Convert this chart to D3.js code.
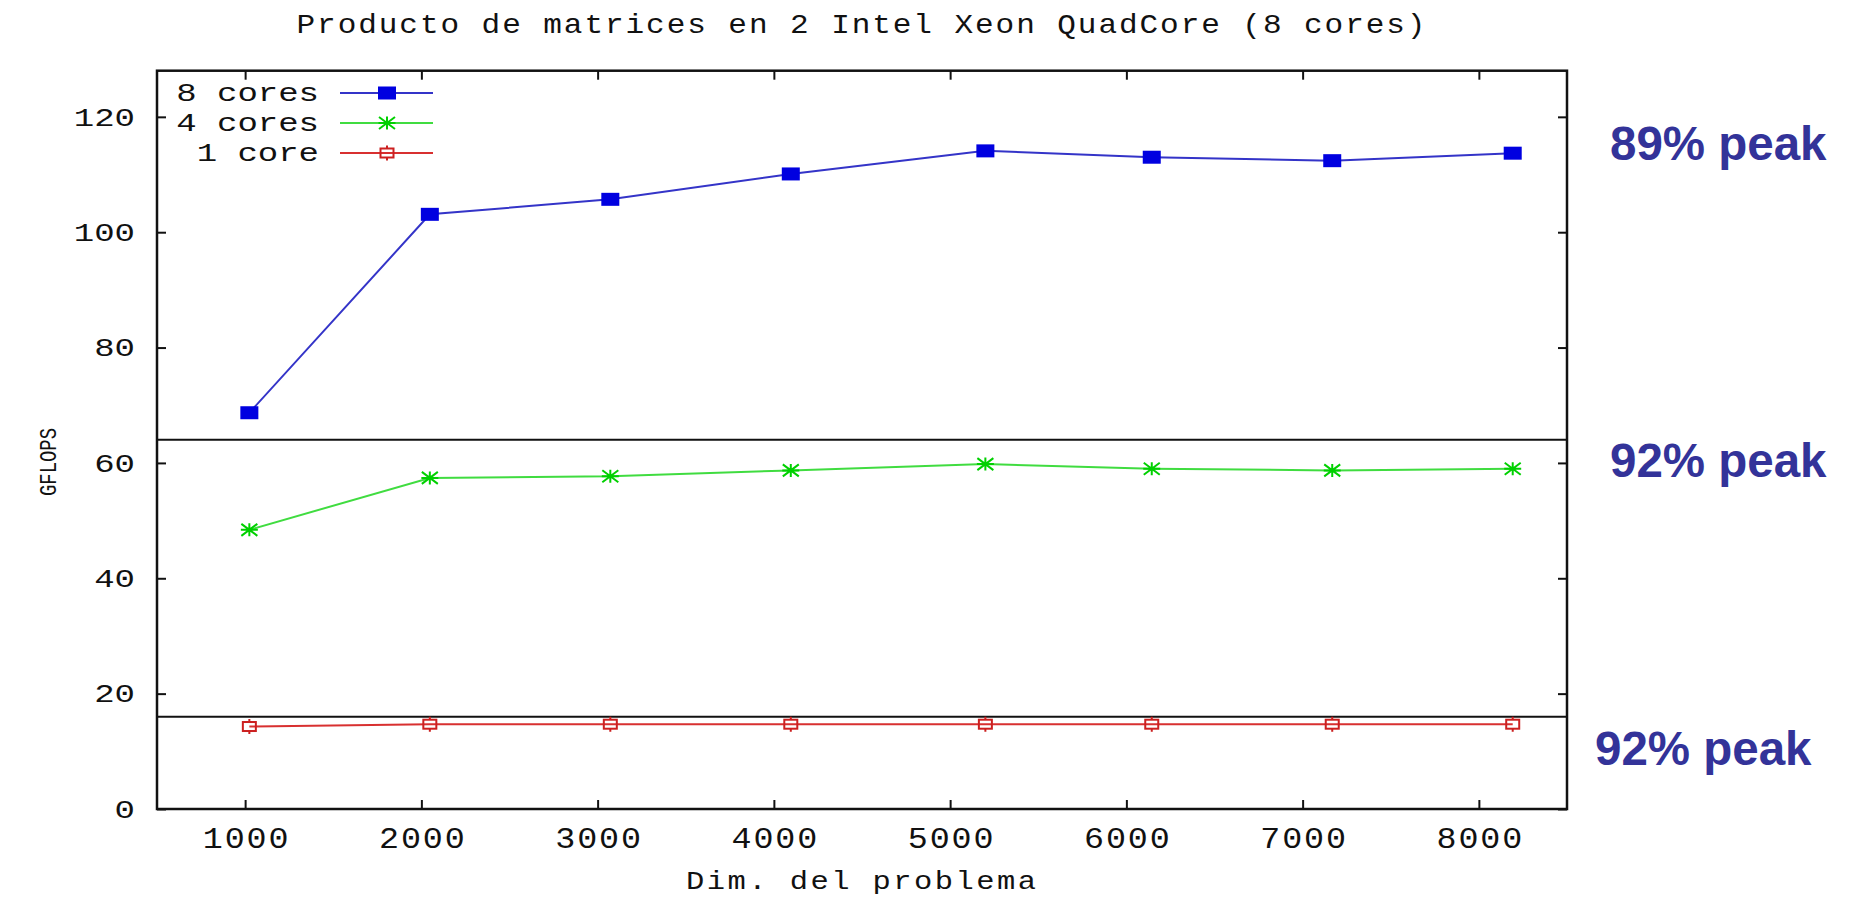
<!DOCTYPE html>
<html>
<head>
<meta charset="utf-8">
<script src="https://cdn.jsdelivr.net/npm/d3@7"></script>
<style>
  html, body { margin: 0; padding: 0; background: #fff; }
  svg { display: block; }
</style>
</head>
<body>
<svg id="chart" width="1849" height="899"></svg>
<script>
// Problem sizes (matrix dimension) and measured GFLOPS per configuration
const dims    = [1024, 2048, 3072, 4096, 5200, 6144, 7168, 8192];
const cores8  = [68.7, 103.1, 105.7, 110.1, 114.1, 113.0, 112.4, 113.7];
const cores4  = [48.4, 57.4, 57.7, 58.7, 59.8, 59.0, 58.7, 59.0];
const cores1  = [14.3, 14.7, 14.7, 14.7, 14.7, 14.7, 14.7, 14.7];
const seriesNames = ["8 cores", "4 cores", "1 core"];

// Theoretical peak levels (1 core, 4 cores) drawn as reference lines
const peakLevels = [16, 64];
const peakLabels = ["89% peak", "92% peak", "92% peak"];

const xTicks = [1000, 2000, 3000, 4000, 5000, 6000, 7000, 8000];
const yTicks = [0, 20, 40, 60, 80, 100, 120];
const xDomain = [500, 8500];
const yDomain = [0, 128];

const titleText = "Producto de matrices en 2 Intel Xeon QuadCore (8 cores)";
const xLabelText = "Dim. del problema";
const yLabelText = "GFLOPS";

// ---- layout ----
const L = 157, R = 1567, T = 70.7, B = 809;
const svg = d3.select("#chart");
const x = d3.scaleLinear().domain(xDomain).range([L, R]);
const y = d3.scaleLinear().domain(yDomain).range([B, T]);

const monoFont = "'Liberation Mono', 'DejaVu Sans Mono', monospace";
const WIDE = 1.36;   // horizontal stretch for the tick/legend lettering
const TSTR = 1.15;   // milder stretch for title and axis caption

// Title
svg.append("text")
  .attr("transform", `translate(861,33) scale(${TSTR},1)`)
  .attr("text-anchor", "middle")
  .attr("font-family", monoFont).attr("font-size", 27)
  .attr("textLength", 1129 / TSTR).attr("lengthAdjust", "spacing")
  .attr("fill", "#111")
  .text(titleText);

// Peak reference lines
svg.append("g").selectAll("line").data(peakLevels).join("line")
  .attr("x1", L).attr("x2", R)
  .attr("y1", d => y(d)).attr("y2", d => y(d))
  .attr("stroke", "#111").attr("stroke-width", 2);

// Bottom axis (+ mirrored top ticks)
const xAxis = svg.append("g").attr("transform", `translate(0,${B})`)
  .call(d3.axisBottom(x).tickValues(xTicks).tickSize(-9).tickFormat(d3.format("d")));
xAxis.select(".domain").remove();
xAxis.selectAll(".tick line").attr("stroke", "#111").attr("stroke-width", 2);
xAxis.selectAll(".tick text")
  .attr("x", 0).attr("y", 0).attr("dy", null)
  .attr("transform", `translate(0,39) scale(${TSTR},1)`)
  .attr("font-family", monoFont).attr("font-size", 29)
  .attr("textLength", 86 / TSTR).attr("lengthAdjust", "spacing")
  .attr("fill", "#111");

const xTop = svg.append("g").attr("transform", `translate(0,${T})`)
  .call(d3.axisTop(x).tickValues(xTicks).tickSize(-9).tickFormat(""));
xTop.select(".domain").remove();
xTop.selectAll(".tick line").attr("stroke", "#111").attr("stroke-width", 2);

// Left axis (+ mirrored right ticks)
const yAxis = svg.append("g").attr("transform", `translate(${L},0)`)
  .call(d3.axisLeft(y).tickValues(yTicks).tickSize(-9));
yAxis.select(".domain").remove();
yAxis.selectAll(".tick line").attr("stroke", "#111").attr("stroke-width", 2);
yAxis.selectAll(".tick text")
  .attr("x", 0).attr("dy", "0.33em")
  .attr("transform", `translate(-22,0) scale(${WIDE},1)`)
  .attr("font-family", monoFont).attr("font-size", 25)
  .attr("fill", "#111");

const yRight = svg.append("g").attr("transform", `translate(${R},0)`)
  .call(d3.axisRight(y).tickValues(yTicks).tickSize(-9).tickFormat(""));
yRight.select(".domain").remove();
yRight.selectAll(".tick line").attr("stroke", "#111").attr("stroke-width", 2);

// Plot frame
svg.append("rect")
  .attr("x", L).attr("y", T).attr("width", R - L).attr("height", B - T)
  .attr("fill", "none").attr("stroke", "#111").attr("stroke-width", 2.5);

// Axis titles
svg.append("text")
  .attr("transform", `translate(861,889) scale(${TSTR},1)`)
  .attr("text-anchor", "middle")
  .attr("font-family", monoFont).attr("font-size", 26.5)
  .attr("textLength", 350 / TSTR).attr("lengthAdjust", "spacing")
  .attr("fill", "#111")
  .text(xLabelText);

svg.append("text")
  .attr("transform", "translate(56,462) rotate(-90)")
  .attr("text-anchor", "middle")
  .attr("font-family", monoFont).attr("font-size", 24)
  .attr("textLength", 68).attr("lengthAdjust", "spacingAndGlyphs")
  .attr("fill", "#111")
  .text(yLabelText);

// ---- series ----
const series = [
  { name: seriesNames[0], values: cores8, line: "#3434c8", mark: "#0000e0", kind: "square" },
  { name: seriesNames[1], values: cores4, line: "#40dc40", mark: "#00d000", kind: "star" },
  { name: seriesNames[2], values: cores1, line: "#d83030", mark: "#cc2020", kind: "box" }
];

const line = d3.line().x(d => x(d[0])).y(d => y(d[1]));

function drawMarker(g, kind, color) {
  if (kind === "square") {
    g.append("rect").attr("x", -9).attr("y", -6.5).attr("width", 18).attr("height", 13)
      .attr("fill", color);
  } else if (kind === "star") {
    const p = "M-8.5,0H8.5M0,-6.5V6.5M-8,-6L8,6M-8,6L8,-6";
    g.append("path").attr("d", p).attr("stroke", color).attr("stroke-width", 2).attr("fill", "none");
  } else {
    g.append("path").attr("d", "M0,-7.5V-4.5M0,4.5V7.5").attr("stroke", color).attr("stroke-width", 2);
    g.append("rect").attr("x", -6.5).attr("y", -4.5).attr("width", 13).attr("height", 9)
      .attr("fill", "none").attr("stroke", color).attr("stroke-width", 2);
  }
}

series.forEach(s => {
  const pts = dims.map((d, i) => [d, s.values[i]]);
  svg.append("path").datum(pts)
    .attr("d", line)
    .attr("fill", "none").attr("stroke", s.line).attr("stroke-width", 2);
  svg.append("g").selectAll("g").data(pts).join("g")
    .attr("transform", d => `translate(${x(d[0])},${y(d[1])})`)
    .each(function () { drawMarker(d3.select(this), s.kind, s.mark); });
});

// ---- legend ----
const legend = svg.append("g");
series.forEach((s, i) => {
  const cy = 93 + i * 30;
  legend.append("text")
    .attr("x", 0).attr("y", 0)
    .attr("transform", `translate(319,${cy + 8.3}) scale(${WIDE},1)`)
    .attr("text-anchor", "end")
    .attr("font-family", monoFont).attr("font-size", 25)
    .attr("fill", "#111")
    .text(s.name);
  legend.append("line")
    .attr("x1", 340).attr("x2", 433).attr("y1", cy).attr("y2", cy)
    .attr("stroke", s.line).attr("stroke-width", 2);
  const mg = legend.append("g").attr("transform", `translate(387,${cy})`);
  drawMarker(mg, s.kind, s.mark);
});

// ---- peak annotations ----
const peakPos = [[1610, 159.5], [1610, 477], [1595, 765]];
svg.append("g").selectAll("text").data(peakLabels).join("text")
  .attr("x", (d, i) => peakPos[i][0]).attr("y", (d, i) => peakPos[i][1])
  .attr("font-family", "'Liberation Sans', Arial, sans-serif")
  .attr("font-weight", "bold").attr("font-size", 47.5)
  .attr("fill", "#333399")
  .text(d => d);
</script>
</body>
</html>
